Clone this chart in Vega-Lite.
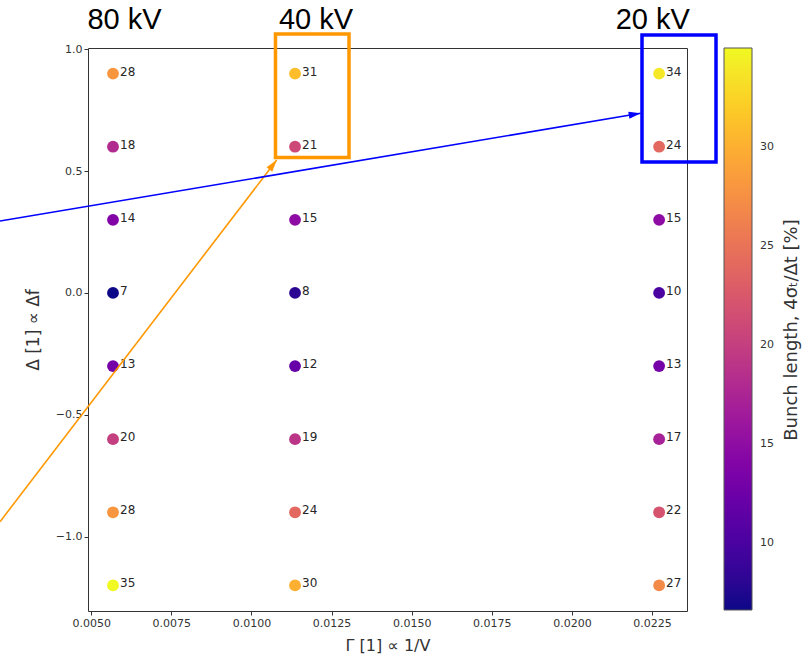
{
  "$schema": "https://vega.github.io/schema/vega-lite/v6.json",
  "width": 599,
  "height": 563,
  "autosize": {"type": "none"},
  "padding": {"left": 88, "top": 48, "right": 121, "bottom": 47},
  "background": "white",
  "config": {
    "view": {"stroke": "#333333", "strokeWidth": 1},
    "font": "DejaVu Sans",
    "axis": {
      "grid": false,
      "domain": false,
      "tickColor": "#333333",
      "tickSize": 4,
      "labelColor": "#333333",
      "labelFontSize": 11,
      "labelFont": "DejaVu Sans",
      "titleColor": "#333333",
      "titleFontSize": 16,
      "titleFontWeight": "normal",
      "titleFont": "DejaVu Sans",
      "labelPadding": 2
    }
  },
  "datasets": {
    "pts": [
      {"gamma": 0.00568, "delta": 0.9, "bl": 28},
      {"gamma": 0.00568, "delta": 0.6, "bl": 18},
      {"gamma": 0.00568, "delta": 0.3, "bl": 14},
      {"gamma": 0.00568, "delta": 0.0, "bl": 6.6},
      {"gamma": 0.00568, "delta": -0.3, "bl": 13},
      {"gamma": 0.00568, "delta": -0.6, "bl": 20},
      {"gamma": 0.00568, "delta": -0.9, "bl": 28},
      {"gamma": 0.00568, "delta": -1.2, "bl": 35},
      {"gamma": 0.01136, "delta": 0.9, "bl": 31},
      {"gamma": 0.01136, "delta": 0.6, "bl": 21},
      {"gamma": 0.01136, "delta": 0.3, "bl": 15},
      {"gamma": 0.01136, "delta": 0.0, "bl": 8},
      {"gamma": 0.01136, "delta": -0.3, "bl": 12},
      {"gamma": 0.01136, "delta": -0.6, "bl": 19},
      {"gamma": 0.01136, "delta": -0.9, "bl": 24},
      {"gamma": 0.01136, "delta": -1.2, "bl": 30},
      {"gamma": 0.02272, "delta": 0.9, "bl": 34},
      {"gamma": 0.02272, "delta": 0.6, "bl": 24},
      {"gamma": 0.02272, "delta": 0.3, "bl": 15},
      {"gamma": 0.02272, "delta": 0.0, "bl": 10},
      {"gamma": 0.02272, "delta": -0.3, "bl": 13},
      {"gamma": 0.02272, "delta": -0.6, "bl": 17},
      {"gamma": 0.02272, "delta": -0.9, "bl": 22},
      {"gamma": 0.02272, "delta": -1.2, "bl": 27}
    ],
    "voltages": [
      {"gamma": 0.006039, "delta": 1.083, "label": "80 kV"},
      {"gamma": 0.012014, "delta": 1.083, "label": "40 kV"},
      {"gamma": 0.02252, "delta": 1.083, "label": "20 kV"}
    ],
    "cbarTitle": [
      {"gamma": 0.026866, "delta": -0.1521, "label": "Bunch length, 4σₜ/Δt [%]"}
    ],
    "orangeBox": [{"gamma": 0.01075, "gamma2": 0.013044, "delta": 1.0624, "delta2": 0.5557}],
    "blueBox": [{"gamma": 0.022186, "gamma2": 0.024495, "delta": 1.0583, "delta2": 0.5372}],
    "orangeLine": [
      {"gamma": 0.002154, "delta": -0.9388},
      {"gamma": 0.010788, "delta": 0.5454}
    ],
    "blueLine": [
      {"gamma": 0.002154, "delta": 0.2951},
      {"gamma": 0.022145, "delta": 0.737}
    ],
    "orangeTip": [{"gamma": 0.010788, "delta": 0.5454}],
    "blueTip": [{"gamma": 0.022145, "delta": 0.737}]
  },
  "encoding": {
    "x": {
      "field": "gamma",
      "type": "quantitative",
      "scale": {"domain": [0.0049, 0.02359], "nice": false, "zero": false},
      "axis": {
        "title": "Γ [1]   ∝ 1/V",
        "values": [0.005, 0.0075, 0.01, 0.0125, 0.015, 0.0175, 0.02, 0.0225],
        "format": ".4f",
        "titlePadding": 9
      }
    },
    "y": {
      "field": "delta",
      "type": "quantitative",
      "scale": {"domain": [-1.305, 1.005], "nice": false, "zero": false},
      "axis": {
        "title": "Δ [1]   ∝ Δf",
        "titleFontSize": 17,
        "values": [-1, -0.5, 0, 0.5, 1],
        "format": ".1f",
        "titlePadding": 13
      }
    }
  },
  "layer": [
    {
      "data": {"name": "pts"},
      "mark": {"type": "circle", "size": 140, "opacity": 1},
      "encoding": {
        "color": {
          "field": "bl",
          "type": "quantitative",
          "scale": {"scheme": "plasma", "domain": [6.6, 35]},
          "legend": {
            "title": null,
            "orient": "none",
            "legendX": 636,
            "legendY": 0,
            "direction": "vertical",
            "gradientLength": 562,
            "gradientThickness": 28,
            "values": [10, 15, 20, 25, 30],
            "labelFontSize": 11,
            "labelColor": "#333333",
            "labelOffset": 8,
            "gradientStrokeColor": "#555555",
            "gradientStrokeWidth": 1
          }
        }
      }
    },
    {
      "data": {"name": "pts"},
      "mark": {"type": "text", "align": "left", "baseline": "alphabetic", "dx": 7, "dy": 2, "fontSize": 12, "color": "#262626", "font": "DejaVu Sans"},
      "encoding": {
        "text": {"field": "bl", "type": "quantitative", "format": ".0f"}
      }
    },
    {
      "data": {"name": "orangeBox"},
      "mark": {"type": "rect", "filled": false, "fillOpacity": 0, "stroke": "#ff9800", "strokeWidth": 3.5, "clip": false},
      "encoding": {
        "x2": {"field": "gamma2"},
        "y2": {"field": "delta2"}
      }
    },
    {
      "data": {"name": "blueBox"},
      "mark": {"type": "rect", "filled": false, "fillOpacity": 0, "stroke": "#0000ff", "strokeWidth": 3.5, "clip": false},
      "encoding": {
        "x2": {"field": "gamma2"},
        "y2": {"field": "delta2"}
      }
    },
    {
      "data": {"name": "orangeLine"},
      "mark": {"type": "line", "color": "#ff9800", "strokeWidth": 1.6, "clip": false},
      "encoding": {}
    },
    {
      "data": {"name": "blueLine"},
      "mark": {"type": "line", "color": "#0000ff", "strokeWidth": 1.6, "clip": false},
      "encoding": {}
    },
    {
      "data": {"name": "orangeTip"},
      "mark": {"type": "point", "shape": "M0,0L-0.6,2L0.6,2Z", "filled": true, "color": "#ff9800", "opacity": 1, "size": 144, "angle": 37.4, "strokeWidth": 0, "clip": false}
    },
    {
      "data": {"name": "blueTip"},
      "mark": {"type": "point", "shape": "M0,0L-0.6,2L0.6,2Z", "filled": true, "color": "#0000ff", "opacity": 1, "size": 144, "angle": 80.5, "strokeWidth": 0, "clip": false}
    },
    {
      "data": {"name": "voltages"},
      "mark": {"type": "text", "align": "center", "baseline": "alphabetic", "fontSize": 29, "font": "Liberation Sans", "color": "#000000", "clip": false},
      "encoding": {
        "text": {"field": "label", "type": "nominal"}
      }
    },
    {
      "data": {"name": "cbarTitle"},
      "mark": {"type": "text", "align": "center", "baseline": "middle", "angle": 270, "fontSize": 18, "font": "DejaVu Sans", "color": "#333333", "clip": false},
      "encoding": {
        "text": {"field": "label", "type": "nominal"}
      }
    }
  ]
}
